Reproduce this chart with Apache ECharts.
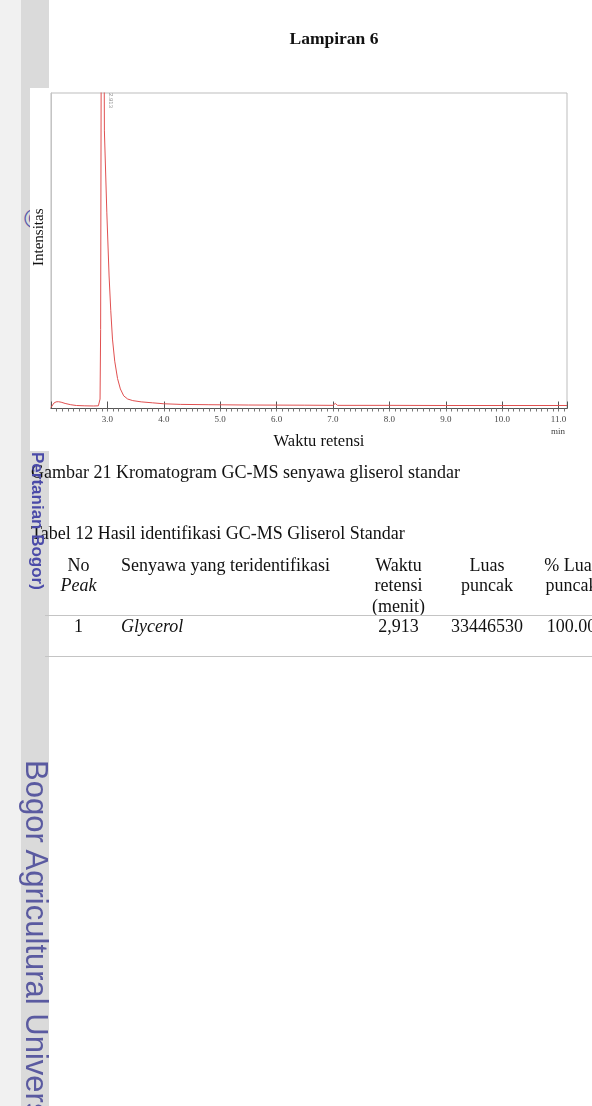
<!DOCTYPE html>
<html>
<head>
<meta charset="utf-8">
<script src="https://cdn.jsdelivr.net/npm/echarts@6/dist/echarts.min.js"></script>
<style>
html,body{margin:0;padding:0;width:592px;height:1106px;overflow:hidden;background:#fff;}
.abs{position:absolute;}
.serif{font-family:'Liberation Serif','Times New Roman',serif;color:#111;white-space:nowrap;}
.wm{position:absolute;transform-origin:0 0;transform:rotate(90deg);white-space:nowrap;font-family:'Liberation Sans',Arial,sans-serif;}
</style>
</head>
<body>
<div class="abs" style="left:0;top:0;width:21px;height:1106px;background:#f1f1f1"></div>
<div class="abs" style="left:21px;top:0;width:28px;height:1106px;background:#dadada"></div>
<div class="abs" style="left:24px;top:206px;font-family:'Liberation Sans',Arial,sans-serif;font-size:27px;line-height:27px;color:#5a5aa8">©</div>
<div class="abs" style="left:30px;top:88px;width:562px;height:363px;background:#fff"></div>
<div id="chart" class="abs" style="left:0;top:0;width:592px;height:1106px"></div>
<div id="page"></div>
<script>
// ---- chromatogram data (retention time in minutes, relative intensity) ----
const retentionTimeMin = [2.00, 2.02, 2.05, 2.09, 2.13, 2.18, 2.25, 2.35, 2.45, 2.60, 2.75, 2.84, 2.87, 2.88, 2.89,
  2.913, 2.93, 2.947, 2.99, 3.03, 3.06, 3.09, 3.13, 3.18, 3.23, 3.29, 3.36, 3.45, 3.60, 3.80, 4.00, 4.30, 4.80,
  5.50, 6.50, 7.00, 7.04, 7.08, 8.00, 9.00, 10.00, 11.15];
const intensity = [0.3, 0.8, 1.7, 2.1, 2.15, 2.0, 1.6, 1.2, 0.95, 0.85, 0.8, 0.85, 3, 25, 110,
  420, 170, 88, 62, 42, 31, 22, 15, 9.5, 6.2, 4.0, 3.0, 2.5, 2.1, 1.8, 1.5, 1.3, 1.2,
  1.1, 1.05, 1.0, 1.6, 1.0, 1.0, 0.95, 0.95, 0.95];
const peakTimes = [2.913];
const xAxisTitle = 'Waktu retensi';
const yAxisTitle = 'Intensitas';
const xUnit = 'min';

// ---- page text ----
const pageTitle = 'Lampiran 6';
const figureCaption = 'Gambar 21 Kromatogram GC-MS senyawa gliserol standar';
const tableCaption = 'Tabel 12 Hasil identifikasi GC-MS Gliserol Standar';
const tableHeaders = [['No', '<i>Peak</i>'], ['Senyawa yang teridentifikasi'], ['Waktu', 'retensi', '(menit)'], ['Luas', 'puncak'], ['% Luas', 'puncak']];
const peakNo = ['1'];
const compoundName = ['Glycerol'];
const retentionTimeText = ['2,913'];
const peakArea = ['33446530'];
const peakAreaPct = ['100.00'];

// ---- build page text ----
const page = document.getElementById('page');
function addText(html, opts) {
  const d = document.createElement('div');
  d.className = 'abs serif';
  d.innerHTML = html;
  Object.assign(d.style, opts);
  page.appendChild(d);
  return d;
}
addText(pageTitle, {left: '234px', width: '200px', textAlign: 'center', top: '28px', lineHeight: '20px', fontSize: '17.5px', fontWeight: 'bold'});
addText(figureCaption, {left: '31px', top: '461.6px', lineHeight: '20.7px', fontSize: '18px'});
addText(tableCaption, {left: '31px', top: '522.6px', lineHeight: '20.7px', fontSize: '18px'});

const cols = [{c: 78.5}, {l: 121}, {c: 398.5}, {c: 487}, {c: 571.5}];
function cell(ci, html, top) {
  const o = {top: top + 'px', lineHeight: '20.7px', fontSize: '18px'};
  if (cols[ci].l !== undefined) { o.left = cols[ci].l + 'px'; }
  else { o.left = (cols[ci].c - 100) + 'px'; o.width = '200px'; o.textAlign = 'center'; }
  addText(html, o);
}
tableHeaders.forEach((lines, ci) => cell(ci, lines.join('<br>'), 554.6));
const rowTop = 615.6;
peakNo.forEach((v, r) => {
  const t = rowTop + r * 41;
  cell(0, v, t);
  cell(1, '<i>' + compoundName[r] + '</i>', t);
  cell(2, retentionTimeText[r], t);
  cell(3, peakArea[r], t);
  cell(4, peakAreaPct[r], t);
});
function rule(y) {
  const d = document.createElement('div');
  d.className = 'abs';
  Object.assign(d.style, {left: '45px', top: y + 'px', width: '547px', height: '1px', background: '#c4c4c4'});
  page.appendChild(d);
}
rule(615);
rule(656);

// watermark
const wm1 = document.createElement('div');
wm1.className = 'wm';
Object.assign(wm1.style, {left: '46px', top: '452px', fontSize: '17px', lineHeight: '17px', fontWeight: 'bold', color: '#4a4aa8'});
wm1.textContent = 'Pertanian Bogor)';
page.appendChild(wm1);
const wm2 = document.createElement('div');
wm2.className = 'wm';
Object.assign(wm2.style, {left: '52px', top: '760px', fontSize: '31px', lineHeight: '31px', color: '#5a5aa0'});
wm2.textContent = 'Bogor Agricultural University';
page.appendChild(wm2);

// ---- chart ----
const chart = echarts.init(document.getElementById('chart'), null, {renderer: 'canvas'});
const serif = 'Liberation Serif';
const option = {
  animation: false,
  grid: {left: 51, right: 25, top: 93, bottom: 697.5, show: true, borderColor: '#bdbdbd', borderWidth: 1},
  xAxis: [{
    type: 'value', min: 2, max: 11.15, interval: 0.1,
    name: xAxisTitle, nameLocation: 'middle', nameGap: 25,
    nameTextStyle: {fontFamily: serif, fontSize: 16.5, color: '#111', padding: [0, 0, 0, 20]},
    axisLine: {lineStyle: {color: '#555', width: 1.2}},
    axisTick: {inside: false, length: 3, lineStyle: {color: '#777'}},
    axisLabel: {
      showMinLabel: false, showMaxLabel: false, margin: 7,
      formatter: v => (Math.abs(v - Math.round(v)) < 1e-6 ? v.toFixed(1) : ''),
      fontFamily: serif, fontSize: 9, color: '#444'
    },
    splitLine: {show: false}
  }, {
    type: 'value', min: 2, max: 11.15, interval: 1, position: 'bottom',
    axisLine: {show: false},
    axisTick: {inside: true, length: 7, lineStyle: {color: '#555'}},
    axisLabel: {show: false}, splitLine: {show: false}
  }],
  yAxis: {
    type: 'value', min: 0, max: 100,
    name: yAxisTitle, nameLocation: 'middle', nameGap: 4,
    nameTextStyle: {fontFamily: serif, fontSize: 15, color: '#111', padding: [0, 0, 0, 27]},
    axisLine: {show: true, lineStyle: {color: '#c4c4c4'}},
    axisTick: {show: false}, axisLabel: {show: false}, splitLine: {show: false}
  },
  series: [{
    type: 'line', xAxisIndex: 0,
    data: retentionTimeMin.map((t, i) => [t, intensity[i]]),
    showSymbol: false, clip: true, z: 3,
    lineStyle: {color: '#e05050', width: 1}
  }, {
    type: 'scatter', xAxisIndex: 0,
    data: peakTimes.map(t => [t, 100]),
    symbolSize: 0, clip: false, silent: true,
    label: {
      show: true, position: 'right', distance: 8, rotate: -90,
      formatter: p => p.value[0].toFixed(3),
      fontFamily: 'Liberation Sans', fontSize: 6, color: '#777'
    }
  }],
  graphic: [{
    type: 'text', x: 558, y: 432,
    style: {text: xUnit, fontFamily: serif, fontSize: 9, fill: '#444', align: 'center', verticalAlign: 'middle'}
  }]
};
chart.setOption(option);
</script>
</body>
</html>
